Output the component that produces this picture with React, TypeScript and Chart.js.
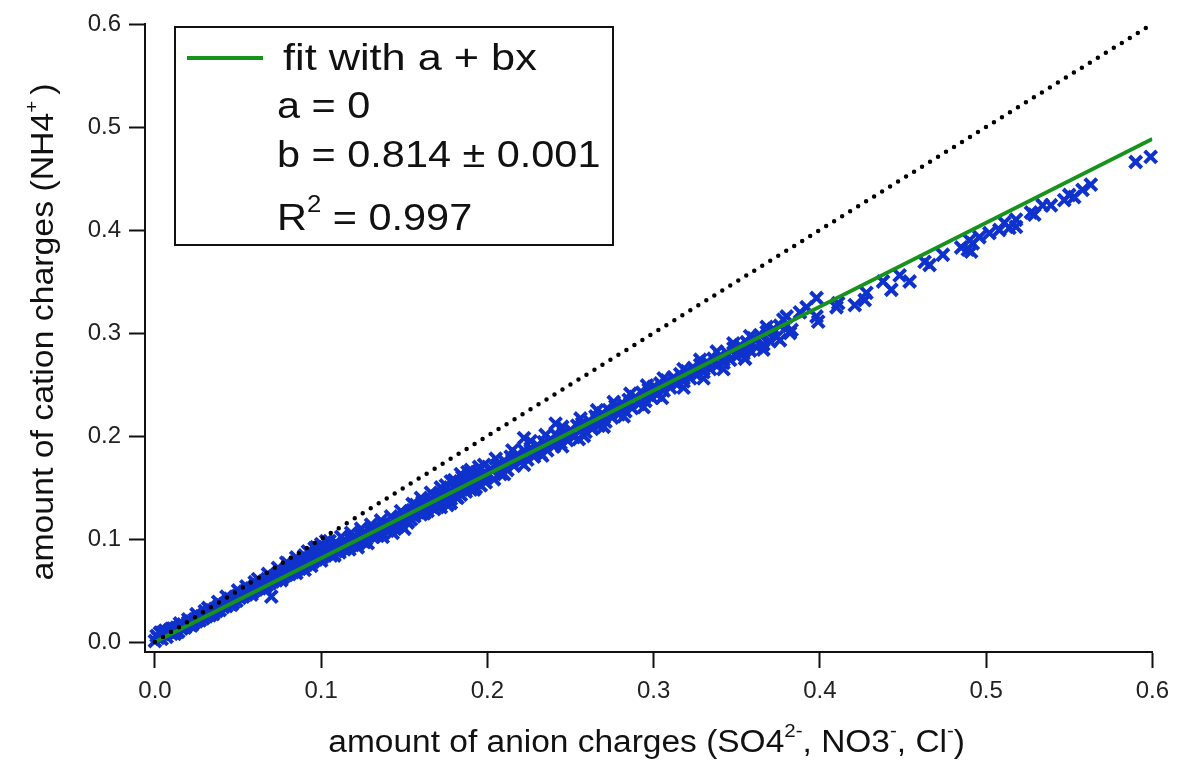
import { useEffect, useRef } from "react";
import { Chart, registerables } from "chart.js";

Chart.register(...registerables);

// ---- axis settings ----
const tickValues = [0, 0.1, 0.2, 0.3, 0.4, 0.5, 0.6];
const xRange = [-0.006, 0.6];
const yRange = [-0.0097, 0.6];

// ---- fit & reference lines ----
const fitIntercept = 0;
const fitSlope = 0.814;
const fitSlopeErr = 0.001;
const fitR2 = 0.997;
const fitXs = [0, 0.6];
const identityXs = [0, 0.6];

// ---- observations: [anion charges, cation charges] ----
const samplesLow: [number, number][] = [
  [0.000, 0.001], [0.001, 0.006], [0.002, 0.004], [0.003, 0.009], [0.004, 0.003], [0.005, 0.008],
  [0.006, 0.011], [0.007, 0.005], [0.008, 0.010], [0.009, 0.012], [0.010, 0.008], [0.011, 0.013],
  [0.012, 0.011], [0.013, 0.014], [0.014, 0.010], [0.015, 0.015], [0.016, 0.013], [0.017, 0.017],
  [0.018, 0.014], [0.019, 0.016], [0.020, 0.019], [0.021, 0.017], [0.022, 0.020], [0.023, 0.018],
  [0.024, 0.022], [0.025, 0.020], [0.026, 0.024], [0.027, 0.021], [0.028, 0.025], [0.029, 0.023],
  [0.030, 0.027], [0.030, 0.030], [0.031, 0.025], [0.032, 0.028], [0.033, 0.026], [0.034, 0.031],
  [0.035, 0.029], [0.036, 0.032], [0.037, 0.030], [0.038, 0.034], [0.039, 0.031], [0.040, 0.036],
  [0.041, 0.034], [0.042, 0.037], [0.043, 0.035], [0.044, 0.039], [0.045, 0.037], [0.045, 0.042],
  [0.046, 0.041], [0.047, 0.038], [0.048, 0.043], [0.049, 0.040], [0.050, 0.045], [0.051, 0.043],
  [0.052, 0.047], [0.053, 0.044], [0.054, 0.049], [0.055, 0.046], [0.056, 0.051], [0.057, 0.048],
  [0.058, 0.052], [0.059, 0.049], [0.060, 0.054], [0.060, 0.058], [0.061, 0.051], [0.062, 0.055],
  [0.063, 0.052], [0.064, 0.057], [0.065, 0.054], [0.066, 0.059], [0.067, 0.055], [0.068, 0.060],
  [0.069, 0.057], [0.070, 0.062], [0.070, 0.044], [0.071, 0.059], [0.072, 0.064], [0.073, 0.060],
  [0.074, 0.066], [0.075, 0.062], [0.076, 0.067], [0.077, 0.063], [0.078, 0.069], [0.079, 0.065],
  [0.080, 0.071], [0.080, 0.076], [0.081, 0.066], [0.082, 0.072], [0.083, 0.068], [0.084, 0.074],
  [0.085, 0.070], [0.086, 0.076], [0.087, 0.071], [0.088, 0.078], [0.089, 0.073], [0.090, 0.079],
  [0.090, 0.084], [0.090, 0.070], [0.091, 0.075], [0.092, 0.081], [0.093, 0.076], [0.094, 0.083],
  [0.095, 0.078], [0.096, 0.084], [0.097, 0.080], [0.097, 0.092], [0.098, 0.086], [0.099, 0.081],
  [0.100, 0.088], [0.100, 0.095], [0.100, 0.079],
  [0.004, 0.009], [0.010, 0.013], [0.015, 0.018], [0.020, 0.022], [0.025, 0.027], [0.032, 0.033],
  [0.038, 0.039], [0.043, 0.044], [0.050, 0.050], [0.055, 0.054], [0.062, 0.061], [0.068, 0.066],
  [0.074, 0.072], [0.079, 0.077], [0.085, 0.082], [0.092, 0.088], [0.096, 0.091],
  [0.012, 0.008], [0.022, 0.016], [0.035, 0.027], [0.046, 0.036], [0.058, 0.046], [0.066, 0.052],
  [0.076, 0.060], [0.085, 0.067], [0.094, 0.074],
];

const samplesMid: [number, number][] = [
  [0.101, 0.083], [0.102, 0.089], [0.103, 0.098], [0.104, 0.086], [0.105, 0.091], [0.106, 0.084],
  [0.108, 0.092], [0.109, 0.088], [0.110, 0.095], [0.111, 0.087], [0.112, 0.093], [0.114, 0.090],
  [0.115, 0.097], [0.116, 0.092], [0.118, 0.099], [0.119, 0.094], [0.120, 0.101], [0.121, 0.096],
  [0.122, 0.092], [0.124, 0.103], [0.125, 0.098], [0.126, 0.105], [0.127, 0.100], [0.128, 0.096],
  [0.130, 0.107], [0.131, 0.102], [0.132, 0.109], [0.133, 0.104], [0.135, 0.111], [0.136, 0.106],
  [0.137, 0.102], [0.138, 0.113], [0.140, 0.108], [0.141, 0.115], [0.141, 0.109], [0.142, 0.110],
  [0.143, 0.106], [0.145, 0.117], [0.146, 0.112], [0.147, 0.119], [0.148, 0.114], [0.150, 0.121],
  [0.150, 0.110], [0.152, 0.117], [0.153, 0.124], [0.154, 0.119], [0.155, 0.128], [0.156, 0.122],
  [0.157, 0.133], [0.158, 0.126], [0.159, 0.131], [0.160, 0.124], [0.161, 0.136], [0.162, 0.130],
  [0.163, 0.134], [0.164, 0.127], [0.165, 0.138], [0.166, 0.132], [0.167, 0.136], [0.168, 0.129],
  [0.169, 0.141], [0.170, 0.134], [0.171, 0.139], [0.172, 0.131], [0.173, 0.143], [0.174, 0.137],
  [0.175, 0.141], [0.175, 0.152], [0.176, 0.133], [0.177, 0.146], [0.178, 0.139], [0.178, 0.135],
  [0.179, 0.144], [0.180, 0.150], [0.180, 0.157], [0.181, 0.141], [0.182, 0.147], [0.183, 0.153],
  [0.184, 0.143], [0.185, 0.150], [0.185, 0.160], [0.186, 0.156], [0.187, 0.146], [0.188, 0.152],
  [0.188, 0.165], [0.189, 0.158], [0.190, 0.148], [0.191, 0.155], [0.192, 0.160], [0.193, 0.150],
  [0.194, 0.157], [0.195, 0.162], [0.195, 0.170], [0.196, 0.152], [0.197, 0.159], [0.198, 0.164],
  [0.199, 0.155], [0.200, 0.161],
  [0.105, 0.098], [0.112, 0.102], [0.118, 0.106], [0.124, 0.110], [0.130, 0.114], [0.136, 0.118],
  [0.142, 0.122], [0.148, 0.127], [0.155, 0.134], [0.160, 0.140], [0.166, 0.145], [0.172, 0.150],
  [0.178, 0.156], [0.184, 0.163], [0.190, 0.167], [0.198, 0.172],
  [0.108, 0.084], [0.117, 0.090], [0.126, 0.097], [0.134, 0.103], [0.144, 0.111], [0.152, 0.116],
  [0.162, 0.125], [0.170, 0.131], [0.182, 0.140], [0.192, 0.148],
];

const samplesUpper: [number, number][] = [
  [0.202, 0.168], [0.204, 0.158], [0.206, 0.172], [0.208, 0.163], [0.210, 0.176], [0.212, 0.167],
  [0.214, 0.180], [0.216, 0.171], [0.218, 0.182], [0.220, 0.175], [0.222, 0.186], [0.222, 0.198],
  [0.224, 0.177], [0.226, 0.188], [0.228, 0.180], [0.230, 0.191], [0.232, 0.183], [0.234, 0.194],
  [0.236, 0.186], [0.238, 0.197], [0.240, 0.190], [0.241, 0.212], [0.242, 0.200], [0.244, 0.193],
  [0.246, 0.203], [0.248, 0.196], [0.250, 0.206], [0.252, 0.199], [0.254, 0.210], [0.255, 0.197],
  [0.257, 0.212], [0.259, 0.204], [0.261, 0.215], [0.263, 0.207], [0.265, 0.219], [0.267, 0.210],
  [0.269, 0.222], [0.271, 0.214], [0.273, 0.225], [0.275, 0.218], [0.277, 0.229], [0.279, 0.221],
  [0.281, 0.232], [0.283, 0.224], [0.285, 0.235], [0.287, 0.227], [0.289, 0.238], [0.291, 0.231],
  [0.293, 0.242], [0.295, 0.234], [0.297, 0.245], [0.299, 0.237], [0.300, 0.248], [0.302, 0.240],
  [0.304, 0.251], [0.306, 0.244], [0.308, 0.254], [0.310, 0.247], [0.312, 0.257], [0.314, 0.250],
  [0.316, 0.260], [0.318, 0.253], [0.320, 0.263], [0.322, 0.256], [0.324, 0.266], [0.326, 0.259],
  [0.328, 0.269], [0.330, 0.262], [0.332, 0.272], [0.334, 0.265], [0.336, 0.275], [0.338, 0.268],
  [0.340, 0.278], [0.342, 0.271], [0.344, 0.281], [0.346, 0.274], [0.348, 0.285], [0.350, 0.277],
  [0.352, 0.288], [0.354, 0.280], [0.356, 0.291], [0.358, 0.283], [0.360, 0.295], [0.362, 0.286],
  [0.364, 0.298], [0.366, 0.289], [0.368, 0.301], [0.370, 0.292], [0.372, 0.304], [0.374, 0.296],
  [0.376, 0.307],
  [0.205, 0.178], [0.215, 0.186], [0.226, 0.195], [0.235, 0.201], [0.245, 0.209], [0.256, 0.217],
  [0.266, 0.225], [0.276, 0.233], [0.286, 0.241], [0.296, 0.249], [0.306, 0.256], [0.318, 0.265],
  [0.328, 0.274], [0.338, 0.282], [0.348, 0.290], [0.358, 0.297], [0.368, 0.306], [0.380, 0.316],
  [0.210, 0.163], [0.222, 0.172], [0.233, 0.181], [0.245, 0.190], [0.258, 0.200], [0.270, 0.209],
  [0.282, 0.219], [0.294, 0.228], [0.305, 0.237], [0.318, 0.247], [0.330, 0.256], [0.342, 0.265],
  [0.355, 0.275], [0.366, 0.284], [0.376, 0.293],
];

const samplesHigh: [number, number][] = [
  [0.378, 0.313], [0.383, 0.303], [0.382, 0.300], [0.388, 0.320], [0.392, 0.325], [0.398, 0.334],
  [0.398, 0.316], [0.399, 0.311], [0.411, 0.329], [0.410, 0.325], [0.421, 0.327], [0.427, 0.332],
  [0.428, 0.339], [0.438, 0.350], [0.443, 0.342], [0.448, 0.356], [0.454, 0.350], [0.463, 0.369],
  [0.466, 0.366], [0.474, 0.376], [0.485, 0.383], [0.489, 0.381], [0.492, 0.387], [0.490, 0.390],
  [0.491, 0.379], [0.496, 0.393], [0.502, 0.397], [0.508, 0.400], [0.511, 0.407], [0.514, 0.402],
  [0.518, 0.410], [0.518, 0.403], [0.527, 0.417], [0.529, 0.415], [0.534, 0.424], [0.539, 0.424],
  [0.547, 0.429], [0.550, 0.434], [0.553, 0.432], [0.558, 0.439], [0.563, 0.444], [0.590, 0.466],
  [0.599, 0.471],
];

const FONT = '"Liberation Sans", Arial, Helvetica, sans-serif';
const BLUE = "#1032cc";
const GREEN = "#17921b";

type Part = { t: string; sup?: boolean };

function richWidth(ctx: CanvasRenderingContext2D, parts: Part[], size: number) {
  let w = 0;
  for (const p of parts) {
    ctx.font = `${p.sup ? Math.round(size * 0.62) : size}px ${FONT}`;
    w += ctx.measureText(p.t).width;
  }
  return w;
}

function drawRich(ctx: CanvasRenderingContext2D, parts: Part[], x: number, y: number, size: number) {
  let cx = x;
  for (const p of parts) {
    ctx.font = `${p.sup ? Math.round(size * 0.62) : size}px ${FONT}`;
    ctx.fillText(p.t, cx, p.sup ? y - size * 0.48 : y);
    cx += ctx.measureText(p.t).width;
  }
}

const overlayPlugin = {
  id: "overlay",
  afterDraw(chart: any) {
    const ctx: CanvasRenderingContext2D = chart.ctx;
    const area = chart.chartArea;
    ctx.save();
    ctx.fillStyle = "#111";
    ctx.textBaseline = "alphabetic";
    ctx.textAlign = "left";

    // x axis title
    const xParts: Part[] = [
      { t: "amount of anion charges (SO4" }, { t: "2-", sup: true },
      { t: ", NO3" }, { t: "-", sup: true }, { t: ", Cl" }, { t: "-", sup: true }, { t: ")" },
    ];
    const sx = 1.08;
    const xw = richWidth(ctx, xParts, 31) * sx;
    ctx.save();
    ctx.translate((area.left + area.right) / 2 - 2 - xw / 2, 752);
    ctx.scale(sx, 1);
    drawRich(ctx, xParts, 0, 0, 31);
    ctx.restore();

    // y axis title
    const yParts: Part[] = [
      { t: "amount of cation charges (NH4" }, { t: "+ ", sup: true }, { t: ")" },
    ];
    const sy = 1.09;
    const yw = richWidth(ctx, yParts, 31) * sy;
    ctx.save();
    ctx.translate(53, 332 + yw / 2);
    ctx.rotate(-Math.PI / 2);
    ctx.scale(sy, 1);
    drawRich(ctx, yParts, 0, 0, 31);
    ctx.restore();

    // legend box
    const bx = area.left + 30;
    const by = area.top + 3;
    ctx.lineWidth = 2;
    ctx.strokeStyle = "#111";
    ctx.fillStyle = "#ffffff";
    ctx.fillRect(bx, by, 438, 218);
    ctx.strokeRect(bx, by, 438, 218);

    ctx.strokeStyle = GREEN;
    ctx.lineWidth = 4;
    ctx.beginPath();
    ctx.moveTo(bx + 12, by + 31);
    ctx.lineTo(bx + 88, by + 31);
    ctx.stroke();

    ctx.fillStyle = "#111";
    const lSize = 37;
    const lines: { parts: Part[]; dx: number; dy: number; s: number }[] = [
      { parts: [{ t: "fit with a + bx" }], dx: 108, dy: 43, s: 1.17 },
      { parts: [{ t: `a = ${fitIntercept}` }], dx: 102, dy: 91, s: 1.12 },
      { parts: [{ t: `b = ${fitSlope.toFixed(3)} \u00b1 ${fitSlopeErr.toFixed(3)}` }], dx: 102, dy: 140, s: 1.12 },
      { parts: [{ t: "R" }, { t: "2", sup: true }, { t: ` = ${fitR2.toFixed(3)}` }], dx: 102, dy: 203, s: 1.12 },
    ];
    for (const l of lines) {
      ctx.save();
      ctx.translate(bx + l.dx, by + l.dy);
      ctx.scale(l.s, 1);
      drawRich(ctx, l.parts, 0, 0, lSize);
      ctx.restore();
    }
    ctx.restore();
  },
};

export default function App() {
  const ref = useRef<HTMLCanvasElement | null>(null);

  useEffect(() => {
    if (!ref.current) return;
    const all = [...samplesLow, ...samplesMid, ...samplesUpper, ...samplesHigh];
    const scatterData = all.map(([x, y]) => ({ x, y }));
    const fitData = fitXs.map((x) => ({ x, y: fitIntercept + fitSlope * x }));
    const identityData = identityXs.map((x) => ({ x, y: x }));

    const axisCommon = (min: number, max: number, isY: boolean) => ({
      type: "linear" as const,
      min,
      max,
      afterBuildTicks: (scale: any) => {
        scale.ticks = tickValues.map((v) => ({ value: v }));
      },
      afterFit: (scale: any) => {
        if (isY) scale.width = 145;
        else scale.height = 108;
      },
      ticks: {
        callback: (v: any) => Number(v).toFixed(1),
        font: { family: FONT, size: 24 },
        color: "#222",
        padding: isY ? 8 : 9,
        autoSkip: false,
        maxRotation: 0,
      },
      grid: {
        display: true,
        drawOnChartArea: false,
        drawTicks: true,
        tickLength: 16,
        tickWidth: 2,
        tickColor: "#111",
      },
      border: { display: true, color: "#111", width: 2 },
      title: { display: false },
    });

    const chart = new Chart(ref.current, {
      type: "scatter",
      data: {
        datasets: [
          {
            label: "identity",
            data: identityData,
            showLine: true,
            borderColor: "#000",
            borderWidth: 4.5,
            borderDash: [0, 9.4],
            borderCapStyle: "round",
            pointRadius: 0,
            fill: false,
            order: 1,
          } as any,
          {
            label: "fit",
            data: fitData,
            showLine: true,
            borderColor: GREEN,
            borderWidth: 4,
            pointRadius: 0,
            fill: false,
            order: 2,
          },
          {
            label: "samples",
            data: scatterData,
            showLine: false,
            pointStyle: "crossRot",
            pointRadius: 8.5,
            borderColor: BLUE,
            backgroundColor: BLUE,
            pointBorderWidth: 4,
            borderWidth: 4,
            order: 3,
            clip: false,
          } as any,
        ],
      },
      options: {
        animation: false,
        responsive: false,
        devicePixelRatio: 1,
        layout: { padding: { top: 24, right: 21, left: 0, bottom: 0 } },
        scales: {
          x: axisCommon(xRange[0], xRange[1], false),
          y: axisCommon(yRange[0], yRange[1], true),
        } as any,
        plugins: {
          legend: { display: false },
          tooltip: { enabled: false },
        },
      },
      plugins: [overlayPlugin],
    });
    return () => chart.destroy();
  }, []);

  return (
    <div style={{ position: "fixed", left: 0, top: 0, width: 1178, height: 760, background: "#fff" }}>
      <canvas ref={ref} width={1178} height={760} style={{ display: "block" }} />
    </div>
  );
}
